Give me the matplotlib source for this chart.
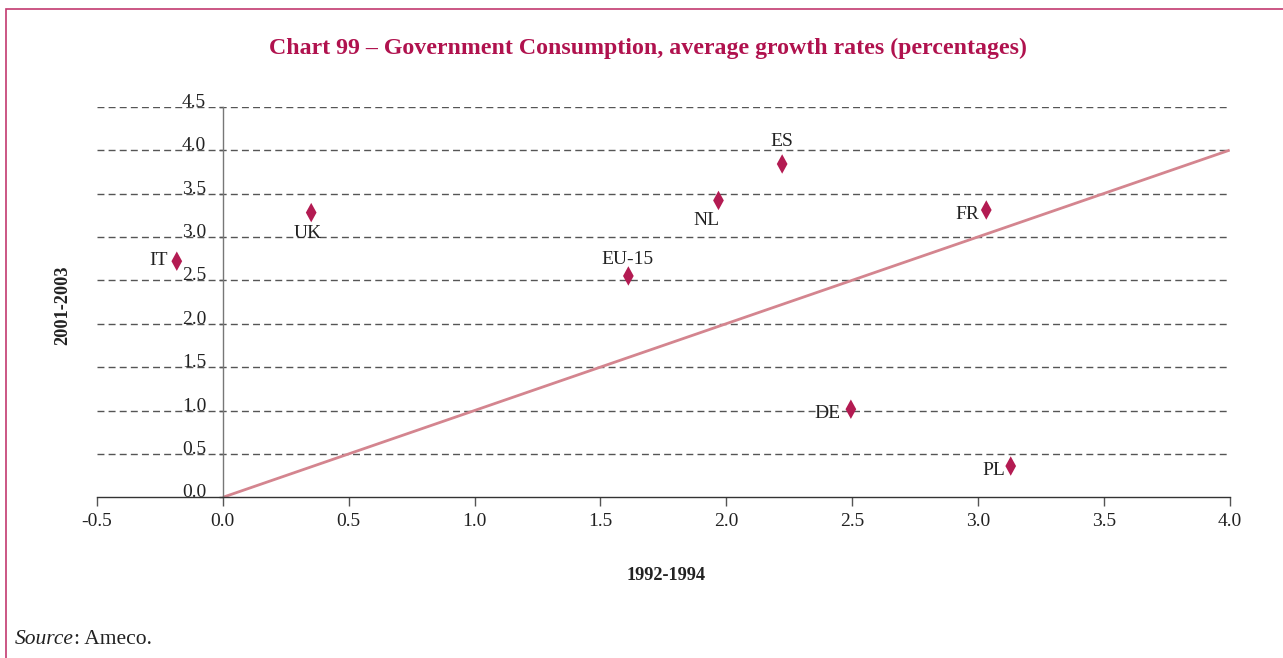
import matplotlib
matplotlib.use("Agg")
import matplotlib.pyplot as plt
from matplotlib.path import Path
from matplotlib.patches import Rectangle

plt.rcParams['font.family'] = ['Liberation Serif', 'DejaVu Serif']

# ---- data ----
countries = ["IT", "UK", "EU-15", "NL", "ES", "FR", "DE", "PL"]
growth_1992_1994 = [-0.183, 0.351, 1.611, 1.969, 2.222, 3.033, 2.495, 3.130]
growth_2001_2003 = [2.72, 3.28, 2.55, 3.42, 3.84, 3.31, 1.015, 0.36]
# label offsets (points) relative to each marker
label_dx = [-13.2, -2.7, -0.7, -8.9, 0.0, -13.4, -16.6, -12.5]
label_dy = [0.7, -15.3, 12.0, -14.2, 16.0, -2.9, -2.9, -3.4]
diag_x = [0.0, 4.0]
diag_y = [0.0, 4.0]
x_ticks = [-0.5, 0.0, 0.5, 1.0, 1.5, 2.0, 2.5, 3.0, 3.5, 4.0]
y_ticks = [0.0, 0.5, 1.0, 1.5, 2.0, 2.5, 3.0, 3.5, 4.0, 4.5]

title = "Chart 99 \u2013 Government Consumption, average growth rates (percentages)"
xlabel = "1992-1994"
ylabel = "2001-2003"

crimson = "#B0124E"
marker_col = "#B31B52"
line_col = "#D4858F"
grid_col = "#555555"
txt_col = "#222222"

fig = plt.figure(figsize=(12.83, 6.58), dpi=100)
W, H = 1283, 658

# frame border
fig.patches.append(Rectangle((6 / W, -0.05), 1.2, 1 - 9.3 / H + 0.05,
                             transform=fig.transFigure, fill=False,
                             edgecolor="#C23A70", lw=1.2))

ax = fig.add_axes([97 / W, 1 - 497.3 / H, (1229.7 - 97) / W, (497.3 - 106.7) / H])
ax.set_xlim(-0.5, 4.0)
ax.set_ylim(0.0, 4.5)

# grid lines (dashed), skip zero
for yv in y_ticks[1:]:
    ax.axhline(yv, color=grid_col, lw=1.0, ls=(0, (5.0, 3.0)), zorder=1)

# spines
for s in ['top', 'right']:
    ax.spines[s].set_visible(False)
ax.spines['left'].set_position(('data', 0.0))
ax.spines['left'].set_color("#777777")
ax.spines['left'].set_linewidth(1.0)
ax.spines['bottom'].set_color("#333333")
ax.spines['bottom'].set_linewidth(1.0)

ax.set_xticks(x_ticks)
ax.set_xticklabels([f"{v:.1f}" for v in x_ticks], fontsize=14, color=txt_col)
ax.tick_params(axis='x', direction='out', length=6.5, width=1.0, color="#555555", pad=5.0)

ax.set_yticks(y_ticks)
ax.set_yticklabels([f"{v:.1f}" for v in y_ticks], fontsize=14, color=txt_col)
ax.tick_params(axis='y', direction='out', length=3, width=1.0, color="#555555", pad=9)
for lab in ax.get_yticklabels():
    lab.set_verticalalignment('baseline')

# diagonal
ax.plot(diag_x, diag_y, color=line_col, lw=2.0, zorder=2, solid_capstyle='butt')

# thin diamond marker
diamond = Path([(0, 1), (0.55, 0), (0, -1), (-0.55, 0), (0, 1)],
               [Path.MOVETO, Path.LINETO, Path.LINETO, Path.LINETO, Path.CLOSEPOLY])
ax.scatter(growth_1992_1994, growth_2001_2003, marker=diamond, s=14.0 ** 2,
           color=marker_col, edgecolors='none', zorder=4)

for name, x, y, dx, dy in zip(countries, growth_1992_1994, growth_2001_2003, label_dx, label_dy):
    ax.annotate(name, (x, y), xytext=(dx, dy), textcoords='offset points',
                ha='center', va='center', fontsize=14, color=txt_col, zorder=5)

# titles and labels
fig.text(648 / W, 1 - 48 / H, title, ha='center', va='center', fontsize=17.2,
         fontweight='bold', color=crimson)
fig.text(666 / W, 1 - 575 / H, xlabel, ha='center', va='center', fontsize=13.2,
         fontweight='bold', color=txt_col)
fig.text(63 / W, 1 - 305 / H, ylabel, ha='center', va='center', fontsize=13.2,
         fontweight='bold', rotation=90, color=txt_col)
src = fig.text(15 / W, 1 - 640 / H, "Source", ha='left', va='center', fontsize=15.5,
               style='italic', color=txt_col)
fig.canvas.draw()
bb = src.get_window_extent()
fig.text(bb.x1 / W, 1 - 640 / H, ": Ameco.", ha='left', va='center', fontsize=15.5,
         color=txt_col)

fig.savefig("out.png", dpi=100)
